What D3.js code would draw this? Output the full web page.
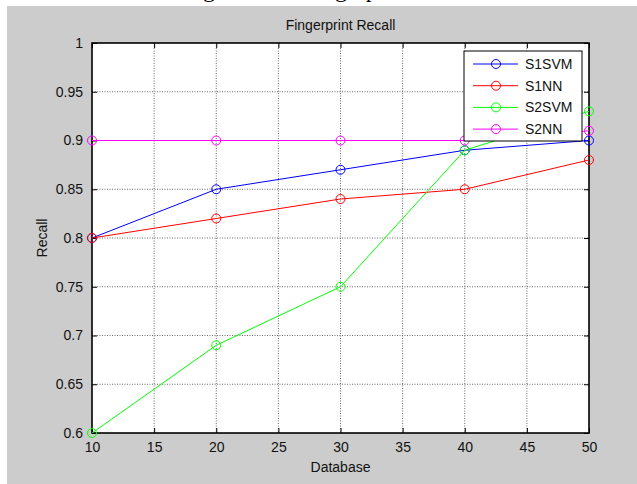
<!DOCTYPE html>
<html><head><meta charset="utf-8">
<script src="https://cdn.jsdelivr.net/npm/d3@7"></script>
<style>body{margin:0;background:#fff}svg{display:block}</style>
</head><body>
<script>
const databaseSizes = [10, 20, 30, 40, 50];
const s1svm = [0.80, 0.85, 0.87, 0.89, 0.90];
const s1nn  = [0.80, 0.82, 0.84, 0.85, 0.88];
const s2svm = [0.60, 0.69, 0.75, 0.89, 0.93];
const s2nn  = [0.90, 0.90, 0.90, 0.90, 0.91];
const seriesNames = ["S1SVM", "S1NN", "S2SVM", "S2NN"];
const seriesColors = ["#0000ff", "#ff0000", "#00ff00", "#ff00ff"];
const xTicks = [10, 15, 20, 25, 30, 35, 40, 45, 50];
const yTicks = [0.6, 0.65, 0.7, 0.75, 0.8, 0.85, 0.9, 0.95, 1];
const yTickLabels = ["0.6", "0.65", "0.7", "0.75", "0.8", "0.85", "0.9", "0.95", "1"];
const seriesValues = [s1svm, s1nn, s2svm, s2nn];

const W = 637, H = 484;
const L = 92, R = 589, T = 43, B = 433;
const font = "'Liberation Sans', Arial, sans-serif";

const svg = d3.select("body").append("svg").attr("width", W).attr("height", H);
svg.append("rect").attr("width", W).attr("height", H).attr("fill", "#fff");
// clipped caption of surrounding document (only descenders visible)
svg.append("text").attr("x", 163).attr("y", -3)
  .attr("font-family", "'Liberation Serif', 'Times New Roman', serif")
  .attr("font-size", 24).attr("word-spacing", 26)
  .text("using the fingerprint");
svg.append("rect").attr("x", 7).attr("y", 6).attr("width", W - 7).attr("height", H - 6).attr("fill", "#cccccc");

const x = d3.scaleLinear().domain([10, 50]).range([L, R]);
const y = d3.scaleLinear().domain([0.6, 1]).range([B, T]);

svg.append("rect").attr("x", L).attr("y", T).attr("width", R - L).attr("height", B - T).attr("fill", "#fff");

// grid
const grid = svg.append("g").attr("stroke", "#444").attr("stroke-width", 0.8).attr("stroke-dasharray", "1,1.5");
grid.selectAll("line.gx").data(xTicks.slice(1, -1)).join("line")
  .attr("x1", d => x(d)).attr("x2", d => x(d)).attr("y1", T).attr("y2", B);
grid.selectAll("line.gy").data(yTicks.slice(1, -1)).join("line")
  .attr("x1", L).attr("x2", R).attr("y1", d => y(d)).attr("y2", d => y(d));

// axes
const ax = svg.append("g").attr("font-family", font).attr("font-size", 14);
const xAxisB = d3.axisBottom(x).tickValues(xTicks).tickSize(-5).tickPadding(9).tickFormat(d3.format("d"));
const xAxisT = d3.axisTop(x).tickValues(xTicks).tickSize(-5).tickFormat("");
const yAxisL = d3.axisLeft(y).tickValues(yTicks).tickSize(-5).tickPadding(9).tickFormat((d, i) => yTickLabels[i]);
const yAxisR = d3.axisRight(y).tickValues(yTicks).tickSize(-5).tickFormat("");
function styleAxis(g) {
  g.select(".domain").remove();
  g.selectAll(".tick line").attr("stroke", "#000").attr("stroke-width", 1);
  g.selectAll(".tick text").attr("fill", "#111").attr("font-family", font).attr("font-size", 14);
}
ax.append("g").attr("transform", `translate(0,${B})`).call(xAxisB).call(styleAxis);
ax.append("g").attr("transform", `translate(0,${T})`).call(xAxisT).call(styleAxis);
ax.append("g").attr("transform", `translate(${L},0)`).call(yAxisL).call(styleAxis);
ax.append("g").attr("transform", `translate(${R},0)`).call(yAxisR).call(styleAxis);
svg.append("rect").attr("x", L).attr("y", T).attr("width", R - L).attr("height", B - T)
  .attr("fill", "none").attr("stroke", "#000").attr("stroke-width", 1.6);

// series
const line = d3.line().x((d, i) => x(databaseSizes[i])).y(d => y(d));
seriesValues.forEach((vals, k) => {
  const g = svg.append("g");
  g.append("path").datum(vals).attr("d", line).attr("fill", "none")
    .attr("stroke", seriesColors[k]).attr("stroke-width", 1);
  g.selectAll("circle").data(vals).join("circle")
    .attr("cx", (d, i) => x(databaseSizes[i])).attr("cy", d => y(d)).attr("r", 4.5)
    .attr("fill", "none").attr("stroke", seriesColors[k]).attr("stroke-width", 1);
});

// title and labels
svg.append("text").attr("x", (L + R) / 2).attr("y", 30).attr("text-anchor", "middle")
  .attr("font-family", font).attr("font-size", 14).attr("fill", "#111").text("Fingerprint Recall");
svg.append("text").attr("x", (L + R) / 2).attr("y", 472).attr("text-anchor", "middle")
  .attr("font-family", font).attr("font-size", 14).attr("fill", "#111").text("Database");
svg.append("text").attr("transform", `translate(47,${(T + B) / 2}) rotate(-90)`).attr("text-anchor", "middle")
  .attr("font-family", font).attr("font-size", 14).attr("fill", "#111").text("Recall");

// legend
const lg = svg.append("g");
lg.append("rect").attr("x", 464).attr("y", 51).attr("width", 118).attr("height", 90)
  .attr("fill", "#fff").attr("stroke", "#000").attr("stroke-width", 1);
seriesNames.forEach((n, k) => {
  const yy = 64 + k * 21.7;
  lg.append("line").attr("x1", 473).attr("x2", 518).attr("y1", yy).attr("y2", yy)
    .attr("stroke", seriesColors[k]).attr("stroke-width", 1);
  lg.append("circle").attr("cx", 496).attr("cy", yy).attr("r", 4.5)
    .attr("fill", "none").attr("stroke", seriesColors[k]).attr("stroke-width", 1);
  lg.append("text").attr("x", 525).attr("y", yy + 5).attr("font-family", font).attr("font-size", 14)
    .attr("fill", "#111").text(n);
});
</script>
</body></html>
